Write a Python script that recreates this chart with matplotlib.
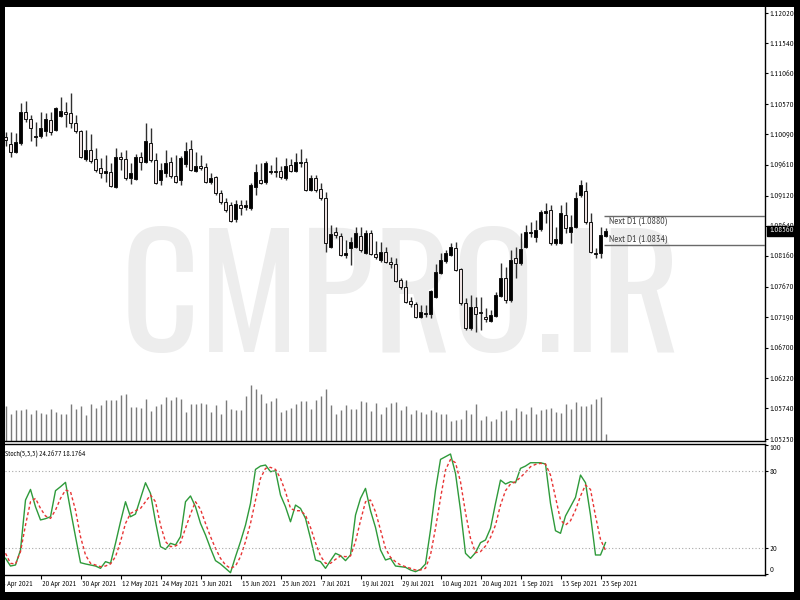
import numpy as np
import matplotlib
matplotlib.use("Agg")
import matplotlib.pyplot as plt
from matplotlib.patches import Rectangle
from matplotlib.transforms import blended_transform_factory, offset_copy

# EURUSD D1 (1 candle por dia)
opens = [1.1005, 1.0994, 1.0981, 1.0996, 1.1045, 1.1034, 1.1005, 1.1007, 1.1015, 1.1032,
         1.1016, 1.1038, 1.1045, 1.1043, 1.1027, 1.1015, 1.0970, 1.0984, 1.0970, 1.0956,
         1.0948, 1.0949, 1.0926, 1.0973, 1.0970, 1.0940, 1.0938, 1.0973, 1.0965, 1.0996,
         1.0968, 1.0937, 1.0948, 1.0965, 1.0943, 1.0937, 1.0962, 1.0986, 1.0951, 1.0959,
         1.0957, 1.0934, 1.0941, 1.0916, 1.0902, 1.0897, 1.0875, 1.0897, 1.0894, 1.0892,
         1.0926, 1.0937, 1.0934, 1.0949, 1.0951, 1.0951, 1.0940, 1.0961, 1.0951, 1.0964,
         1.0965, 1.0921, 1.0940, 1.0922, 1.0908, 1.0830, 1.0854, 1.0848, 1.0818, 1.0829,
         1.0830, 1.0848, 1.0821, 1.0852, 1.0819, 1.0810, 1.0822, 1.0806, 1.0803, 1.0778,
         1.0767, 1.0744, 1.0740, 1.0719, 1.0724, 1.0724, 1.0751, 1.0789, 1.0808, 1.0818,
         1.0829, 1.0795, 1.0741, 1.0701, 1.0735, 1.0727, 1.0719, 1.0713, 1.0721, 1.0752,
         1.0781, 1.0746, 1.0813, 1.0805, 1.0830, 1.0853, 1.0846, 1.0859, 1.0884, 1.0889,
         1.0837, 1.0837, 1.0881, 1.0854, 1.0862, 1.0913, 1.0919, 1.0870, 1.0819, 1.0821,
         1.0848]
highs = [1.1013, 1.1013, 1.1011, 1.1059, 1.1062, 1.1040, 1.1029, 1.1045, 1.1043, 1.1045,
         1.1053, 1.1069, 1.1061, 1.1075, 1.1040, 1.1016, 1.1016, 1.1010, 1.0988, 1.0972,
         1.0976, 1.0964, 1.0988, 1.0981, 1.0984, 1.0964, 1.0978, 1.0981, 1.1027, 1.1019,
         1.0980, 1.0964, 1.0984, 1.0973, 1.0976, 1.0975, 1.0997, 1.1000, 1.0981, 1.0976,
         1.0964, 1.0948, 1.0943, 1.0921, 1.0908, 1.0902, 1.0905, 1.0905, 1.0905, 1.0932,
         1.0962, 1.0964, 1.0967, 1.0961, 1.0973, 1.0959, 1.0972, 1.0970, 1.0980, 1.0986,
         1.0972, 1.0945, 1.0945, 1.0932, 1.0918, 1.0865, 1.0862, 1.0852, 1.0841, 1.0846,
         1.0862, 1.0862, 1.0857, 1.0857, 1.0840, 1.0838, 1.0830, 1.0814, 1.0813, 1.0781,
         1.0778, 1.0751, 1.0743, 1.0738, 1.0738, 1.0762, 1.0803, 1.0821, 1.0825, 1.0837,
         1.0838, 1.0797, 1.0749, 1.0754, 1.0751, 1.0751, 1.0733, 1.0730, 1.0759, 1.0805,
         1.0799, 1.0825, 1.0830, 1.0852, 1.0865, 1.0870, 1.0873, 1.0889, 1.0900, 1.0897,
         1.0862, 1.0897, 1.0902, 1.0881, 1.0918, 1.0937, 1.0934, 1.0884, 1.0829, 1.0862,
         1.0860]
lows = [1.0991, 1.0973, 1.0980, 1.0992, 1.1029, 1.0999, 1.0991, 1.1003, 1.1007, 1.1008,
        1.1015, 1.1037, 1.1021, 1.1019, 1.1011, 1.0972, 1.0967, 1.0964, 1.0949, 1.0940,
        1.0934, 1.0926, 1.0924, 1.0953, 1.0937, 1.0930, 1.0937, 1.0953, 1.0964, 1.0965,
        1.0930, 1.0929, 1.0941, 1.0940, 1.0932, 1.0929, 1.0957, 1.0951, 1.0949, 1.0953,
        1.0932, 1.0930, 1.0913, 1.0899, 1.0886, 1.0870, 1.0870, 1.0881, 1.0889, 1.0889,
        1.0913, 1.0930, 1.0930, 1.0946, 1.0941, 1.0938, 1.0937, 1.0949, 1.0949, 1.0957,
        1.0919, 1.0919, 1.0918, 1.0905, 1.0822, 1.0829, 1.0845, 1.0816, 1.0813, 1.0802,
        1.0829, 1.0822, 1.0819, 1.0818, 1.0811, 1.0806, 1.0805, 1.0797, 1.0775, 1.0764,
        1.0741, 1.0735, 1.0717, 1.0717, 1.0719, 1.0717, 1.0749, 1.0787, 1.0805, 1.0816,
        1.0792, 1.0738, 1.0698, 1.0698, 1.0695, 1.0698, 1.0711, 1.0711, 1.0719, 1.0751,
        1.0741, 1.0743, 1.0781, 1.0802, 1.0829, 1.0846, 1.0838, 1.0856, 1.0868, 1.0833,
        1.0833, 1.0835, 1.0852, 1.0837, 1.0860, 1.0910, 1.0867, 1.0821, 1.0813, 1.0813,
        1.0846]
closes = [1.1000, 1.0981, 1.0997, 1.1045, 1.1034, 1.1019, 1.1007, 1.1019, 1.1034, 1.1013,
          1.1051, 1.1046, 1.1042, 1.1027, 1.1015, 1.0973, 1.0984, 1.0967, 1.0953, 1.0948,
          1.0951, 1.0927, 1.0973, 1.0970, 1.0940, 1.0948, 1.0973, 1.0965, 1.0999, 1.0968,
          1.0932, 1.0953, 1.0964, 1.0943, 1.0934, 1.0972, 1.0983, 1.0953, 1.0959, 1.0956,
          1.0934, 1.0940, 1.0916, 1.0902, 1.0889, 1.0872, 1.0899, 1.0892, 1.0897, 1.0929,
          1.0949, 1.0932, 1.0964, 1.0951, 1.0949, 1.0941, 1.0959, 1.0951, 1.0965, 1.0965,
          1.0921, 1.0940, 1.0921, 1.0908, 1.0837, 1.0851, 1.0849, 1.0818, 1.0821, 1.0838,
          1.0852, 1.0825, 1.0852, 1.0819, 1.0814, 1.0822, 1.0806, 1.0803, 1.0776, 1.0767,
          1.0743, 1.0740, 1.0719, 1.0727, 1.0725, 1.0760, 1.0791, 1.0810, 1.0821, 1.0830,
          1.0794, 1.0741, 1.0701, 1.0735, 1.0724, 1.0725, 1.0716, 1.0722, 1.0754, 1.0781,
          1.0746, 1.0810, 1.0805, 1.0827, 1.0854, 1.0854, 1.0857, 1.0886, 1.0887, 1.0837,
          1.0843, 1.0884, 1.0860, 1.0862, 1.0908, 1.0929, 1.0870, 1.0822, 1.0821, 1.0849,
          1.0856]

# volume (milhares de ticks)
volumes = [69.3, 53.3, 62.7, 62.7, 64.0, 53.3, 61.3, 56.7, 53.3, 64.0,
           58.7, 53.3, 54.7, 74.7, 64.7, 69.3, 51.3, 73.3, 66.0, 72.7,
           82.7, 81.3, 82.7, 91.3, 93.3, 68.0, 68.0, 66.0, 84.7, 60.0,
           69.3, 74.7, 88.0, 82.7, 88.0, 84.0, 58.0, 73.3, 74.7, 76.0,
           74.7, 58.7, 71.3, 54.7, 82.7, 64.0, 61.3, 62.7, 90.0, 111.3,
           104.7, 94.7, 76.7, 79.3, 86.7, 58.0, 62.7, 66.0, 74.7, 79.3,
           80.0, 64.7, 82.7, 90.0, 104.7, 72.0, 53.3, 61.3, 72.7, 63.3,
           63.3, 80.0, 78.7, 60.0, 76.0, 54.7, 68.0, 76.0, 78.0, 62.7,
           69.3, 53.3, 62.7, 58.7, 54.7, 62.7, 58.7, 53.3, 54.7, 40.0,
           41.3, 44.7, 62.7, 54.7, 74.7, 41.3, 49.3, 40.0, 44.7, 60.0,
           62.7, 41.3, 66.0, 60.0, 53.3, 68.0, 53.3, 62.7, 63.3, 66.0,
           58.7, 56.0, 73.3, 64.7, 77.3, 70.0, 69.3, 73.3, 84.7, 88.0,
           14.7]

# Stochastic (5,3,3)
stoch_k = [12.0, 6.0, 6.8, 18.5, 57.4, 65.7, 52.2, 41.9, 42.9, 44.4,
           64.7, 67.8, 71.2, 49.6, 28.9, 8.6, 7.6, 6.8, 6.0, 4.2,
           9.4, 8.1, 23.7, 40.5, 56.1, 44.4, 46.5, 58.7, 70.9, 62.6,
           40.5, 21.1, 19.0, 23.7, 22.4, 28.9, 56.1, 60.6, 52.2, 39.2,
           30.2, 19.8, 10.2, 7.6, 4.2, 0.8, 13.3, 25.0, 37.9, 54.8,
           81.3, 83.9, 84.7, 79.5, 80.3, 61.3, 52.2, 40.5, 53.5, 50.9,
           43.1, 27.6, 10.7, 9.4, 4.2, 10.2, 15.9, 14.1, 10.2, 14.6,
           45.7, 58.7, 66.5, 49.1, 36.1, 18.5, 10.7, 12.0, 6.0, 5.5,
           5.0, 2.9, 1.6, 3.4, 7.6, 34.1, 65.2, 89.1, 91.2, 93.3,
           78.2, 49.6, 15.9, 12.0, 16.4, 24.2, 26.3, 35.4, 54.8, 73.0,
           69.9, 71.7, 70.9, 82.1, 83.9, 86.5, 86.5, 86.5, 85.5, 54.8,
           33.5, 31.5, 45.0, 52.2, 59.5, 76.9, 70.9, 45.7, 14.6, 14.6,
           24.2677]
stoch_d = [15.9, 8.1, 7.6, 17.2, 37.9, 56.1, 58.7, 50.9, 45.0, 43.1,
           49.6, 58.7, 65.2, 63.9, 49.6, 28.9, 14.6, 8.1, 6.8, 5.5,
           6.0, 7.6, 13.3, 25.0, 39.2, 47.0, 49.1, 50.9, 56.1, 61.3,
           56.1, 37.9, 25.0, 21.1, 21.6, 24.2, 35.4, 46.5, 56.1, 50.2,
           39.2, 28.9, 19.8, 12.0, 6.8, 4.2, 6.0, 13.3, 25.0, 39.2,
           57.4, 74.3, 82.1, 82.9, 81.3, 74.3, 63.9, 50.9, 49.1, 49.1,
           45.7, 36.1, 24.2, 13.8, 8.1, 8.1, 11.2, 13.8, 13.3, 13.8,
           25.0, 41.3, 56.1, 57.4, 48.3, 34.1, 19.8, 12.8, 9.4, 6.8,
           5.5, 4.2, 2.9, 2.9, 4.2, 14.6, 35.4, 58.7, 80.8, 89.1,
           86.5, 71.7, 47.6, 27.6, 16.4, 17.2, 21.6, 28.3, 37.9, 53.5,
           64.7, 69.9, 71.7, 75.1, 79.0, 83.4, 85.2, 86.0, 85.5, 76.9,
           59.5, 41.9, 37.9, 41.3, 49.6, 60.6, 69.1, 65.7, 45.0, 26.8,
           18.1764]

date_labels = ["8 Apr 2021", "20 Apr 2021", "30 Apr 2021", "12 May 2021", "24 May 2021",
               "3 Jun 2021", "15 Jun 2021", "25 Jun 2021", "7 Jul 2021", "19 Jul 2021",
               "29 Jul 2021", "10 Aug 2021", "20 Aug 2021", "1 Sep 2021", "13 Sep 2021",
               "23 Sep 2021"]
date_bars = [-1, 7, 15, 23, 31, 39, 47, 55, 63, 71, 79, 87, 95, 103, 111, 119]

price_ticks = [1.12020, 1.11540, 1.11060, 1.10570, 1.10090, 1.09610, 1.09120, 1.08640,
               1.08160, 1.07670, 1.07190, 1.06700, 1.06220, 1.05740, 1.05250]
stoch_levels = [0, 20, 80, 100]
next_d1 = [1.0880, 1.0834]
last_price = 1.08560

plt.rcParams['font.family'] = ['PT Sans Narrow', 'DejaVu Sans']
FS = 6.0

W, H = 800, 600
fig = plt.figure(figsize=(8, 6), dpi=100, facecolor='black')
# area branca dentro da moldura preta
fig.add_artist(Rectangle((5 / W, 8 / H), 789 / W, 585 / H, transform=fig.transFigure,
                         fc='white', ec='none', zorder=-10))

main_rect = [5 / W, 1 - 441 / H, 760 / W, 434 / H]
ax = fig.add_axes(main_rect)
axv = fig.add_axes(main_rect, sharex=ax, zorder=-1)
ax_st = fig.add_axes([5 / W, 1 - 575 / H, 760 / W, 131 / H], sharex=ax)

x = np.arange(len(opens))
o = np.array(opens)
h = np.array(highs)
l = np.array(lows)
c = np.array(closes)
up = c >= o

# volume
axv.vlines(x, 0, volumes, colors='#7a7a7a', lw=1)
axv.set_ylim(0, 868)
axv.axis('off')

ax.patch.set_visible(False)
ax.text(0.521, 0.2051, "CMPRO.IR", transform=ax.transAxes, ha='center', va='baseline',
        fontsize=110, color='#ededed', zorder=0.5, family=['Oswald', 'DejaVu Sans'])

ax.vlines(x, l, h, colors='#303030', lw=1, zorder=2)
ax.bar(x, np.abs(c - o), bottom=np.minimum(o, c), width=0.6,
       color=np.where(up, '#000000', '#eee2e2'), edgecolor='#111111', linewidth=0.7, zorder=3)

ax.set_xlim(-0.1, 151.9)
ax.set_ylim(1.05219, 1.12116)
ax.yaxis.tick_right()
ax.set_yticks(price_ticks)
ax.set_yticklabels([f"{t:.5f}" for t in price_ticks])
ax.tick_params(axis='y', length=2, width=0.8, pad=1, labelsize=FS, direction='out')
ax.tick_params(axis='x', bottom=False, labelbottom=False)
for s in ['left', 'top']:
    ax.spines[s].set_visible(False)
for s in ['right', 'bottom']:
    ax.spines[s].set_linewidth(1)

# linhas Next D1
ax.hlines(next_d1, 119.7, 151.9, colors='#6a6a6a', lw=1, zorder=4)
ax.text(120.7, next_d1[0], f"Next D1 ({next_d1[0]:.4f})", va='top', ha='left',
        fontsize=7.0, color='#404040', zorder=4,
        transform=offset_copy(ax.transData, fig=fig, x=0, y=-1, units='dots'))
ax.text(120.7, next_d1[1], f"Next D1 ({next_d1[1]:.4f})", va='bottom', ha='left',
        fontsize=7.0, color='#404040', zorder=4,
        transform=offset_copy(ax.transData, fig=fig, x=0, y=1, units='dots'))

# preco atual
ax.text(1.0, last_price, f"{last_price:.5f}", color='white', fontsize=FS, va='center', ha='left',
        transform=offset_copy(blended_transform_factory(ax.transAxes, ax.transData),
                              fig=fig, x=4, y=0, units='dots'),
        bbox=dict(boxstyle='square,pad=0.2', fc='black', ec='black'), zorder=6, clip_on=False)

# estocastico
ax_st.plot(x, stoch_k, color='#2e9a3a', lw=1)
ax_st.plot(x, stoch_d, color='#e83434', lw=1, ls=(0, (2.2, 1.8)))
for lv in [20, 80]:
    ax_st.axhline(lv, color='#a8a8a8', lw=0.8, ls=(0, (1, 2)))
ax_st.set_ylim(-1.0, 101.1)
ax_st.yaxis.tick_right()
ax_st.set_yticks(stoch_levels)
ax_st.set_yticklabels([str(v) for v in stoch_levels])
ax_st.tick_params(axis='y', length=2, width=0.8, pad=1, labelsize=FS)
yl = ax_st.get_yticklabels()
yl[0].set_va('bottom')
yl[-1].set_va('top')
ax_st.set_xticks([b for b in date_bars if b >= 0])
ax_st.tick_params(axis='x', length=3, width=0.8, labelbottom=False)
ax_st.spines['left'].set_visible(False)
for s in ['right', 'bottom', 'top']:
    ax_st.spines[s].set_linewidth(1)

tr_dates = offset_copy(ax_st.get_xaxis_transform(), fig=fig, x=1, y=-9, units='dots')
for b, lab in zip(date_bars, date_labels):
    ax_st.text(b, 0, lab, transform=tr_dates, ha='left', va='center', fontsize=5.8, clip_on=False)

ax_st.text(0, 1, f"Stoch(5,3,3) {stoch_k[-1]:.4f} {stoch_d[-1]:.4f}", ha='left', va='center',
           fontsize=5.6, transform=offset_copy(ax_st.transAxes, fig=fig, x=0, y=-9, units='dots'))

fig.savefig("out.png", dpi=100, facecolor=fig.get_facecolor())
